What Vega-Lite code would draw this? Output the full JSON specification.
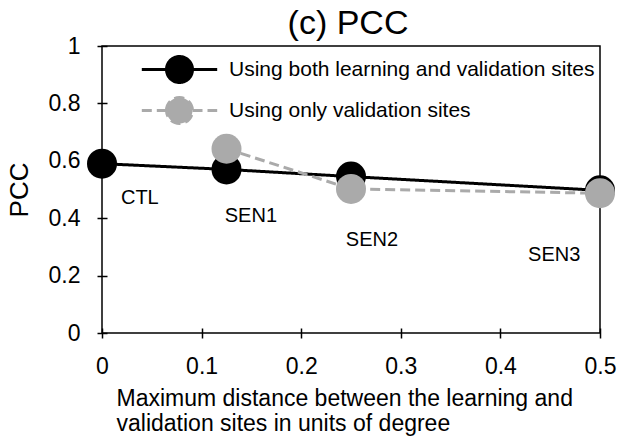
{
  "$schema": "https://vega.github.io/schema/vega-lite/v6.json",
  "width": 498,
  "height": 287,
  "autosize": {"type": "none"},
  "padding": {"left": 102, "top": 46, "right": 21, "bottom": 107},
  "background": "white",
  "title": {"text": "(c) PCC", "fontSize": 34, "fontWeight": "normal", "font": "Liberation Sans", "color": "black", "anchor": "middle", "baseline": "alphabetic", "offset": -33, "dx": -3},
  "config": {
    "font": "Liberation Sans",
    "view": {"stroke": "black", "strokeWidth": 1.5},
    "axis": {"domain": false, "grid": false, "labelFlush": false, "labelOverlap": false, "tickColor": "black", "tickWidth": 1.5, "tickSize": 10, "offset": -5, "labelColor": "black", "labelFontSize": 23, "labelFont": "Liberation Sans", "titleColor": "black", "titleFontWeight": "normal", "titleFont": "Liberation Sans"}
  },
  "datasets": {
    "pts": [
      {"series": "Using both learning and validation sites", "distance": 0, "pcc": 0.59},
      {"series": "Using both learning and validation sites", "distance": 0.125, "pcc": 0.57},
      {"series": "Using both learning and validation sites", "distance": 0.25, "pcc": 0.545},
      {"series": "Using both learning and validation sites", "distance": 0.5, "pcc": 0.497},
      {"series": "Using only validation sites", "distance": 0.125, "pcc": 0.642},
      {"series": "Using only validation sites", "distance": 0.25, "pcc": 0.502},
      {"series": "Using only validation sites", "distance": 0.5, "pcc": 0.487}
    ],
    "labels": [
      {"label": "CTL", "distance": 0.038, "pcc": 0.472},
      {"label": "SEN1", "distance": 0.1495, "pcc": 0.409},
      {"label": "SEN2", "distance": 0.271, "pcc": 0.325},
      {"label": "SEN3", "distance": 0.454, "pcc": 0.273}
    ]
  },
  "encoding": {
    "x": {"field": "distance", "type": "quantitative",
      "scale": {"domain": [0, 0.5], "nice": false, "zero": false},
      "axis": {"values": [0, 0.1, 0.2, 0.3, 0.4, 0.5], "format": "~g", "labelPadding": 17,
        "title": ["Maximum distance between the learning and", "validation sites in units of degree"],
        "titleFontSize": 23, "titleLineHeight": 25, "titleAlign": "left", "titleBaseline": "alphabetic", "titleX": 14, "titleY": 77, "titleAngle": 0}},
    "y": {"field": "pcc", "type": "quantitative",
      "scale": {"domain": [0, 1], "nice": false},
      "axis": {"values": [0, 0.2, 0.4, 0.6, 0.8, 1], "format": "~g", "labelPadding": 17,
        "title": "PCC", "titleFontSize": 26, "titleAngle": -90, "titleAlign": "center", "titleBaseline": "middle", "titleX": -88, "titleY": 143.5}}
  },
  "layer": [
    {
      "data": {"name": "pts"},
      "transform": [{"filter": "datum.series === 'Using both learning and validation sites'"}],
      "mark": {"type": "line", "strokeWidth": 3},
      "encoding": {
        "color": {"field": "series", "type": "nominal",
          "scale": {"domain": ["Using both learning and validation sites", "Using only validation sites"], "range": ["#000000", "#aaaaaa"]},
          "legend": {"orient": "none", "legendX": 63, "legendY": 9, "title": null, "padding": 0,
            "symbolType": "M-2.9,0H-1M1,0H2.9M-1,0A1,1 0 1,1 1,0A1,1 0 1,1 -1,0Z",
            "symbolSize": 676, "symbolStrokeWidth": 3, "labelOffset": 35, "labelFontSize": 21, "labelColor": "black", "labelFont": "Liberation Sans", "rowPadding": 2, "labelLimit": 500,
            "encode": {"symbols": {"update": {
              "fill": {"scale": "color", "field": "value"},
              "stroke": {"scale": "color", "field": "value"},
              "strokeDash": {"scale": "strokeDash", "field": "value"},
              "opacity": {"value": 1}}}}}},
        "strokeDash": {"field": "series", "type": "nominal",
          "scale": {"domain": ["Using both learning and validation sites", "Using only validation sites"], "range": [[1, 0], [10, 5]]},
          "legend": null}
      }
    },
    {
      "data": {"name": "pts"},
      "transform": [{"filter": "datum.series === 'Using both learning and validation sites'"}],
      "mark": {"type": "circle", "size": 900, "opacity": 1},
      "encoding": {"color": {"field": "series", "type": "nominal"}}
    },
    {
      "data": {"name": "pts"},
      "transform": [{"filter": "datum.series === 'Using only validation sites'"}],
      "mark": {"type": "line", "strokeWidth": 3},
      "encoding": {
        "color": {"field": "series", "type": "nominal"},
        "strokeDash": {"field": "series", "type": "nominal"}
      }
    },
    {
      "data": {"name": "pts"},
      "transform": [{"filter": "datum.series === 'Using only validation sites'"}],
      "mark": {"type": "circle", "size": 900, "opacity": 1},
      "encoding": {"color": {"field": "series", "type": "nominal"}}
    },
    {
      "data": {"name": "labels"},
      "mark": {"type": "text", "fontSize": 20, "font": "Liberation Sans", "color": "black", "align": "center", "baseline": "middle"},
      "encoding": {"text": {"field": "label"}}
    }
  ]
}
